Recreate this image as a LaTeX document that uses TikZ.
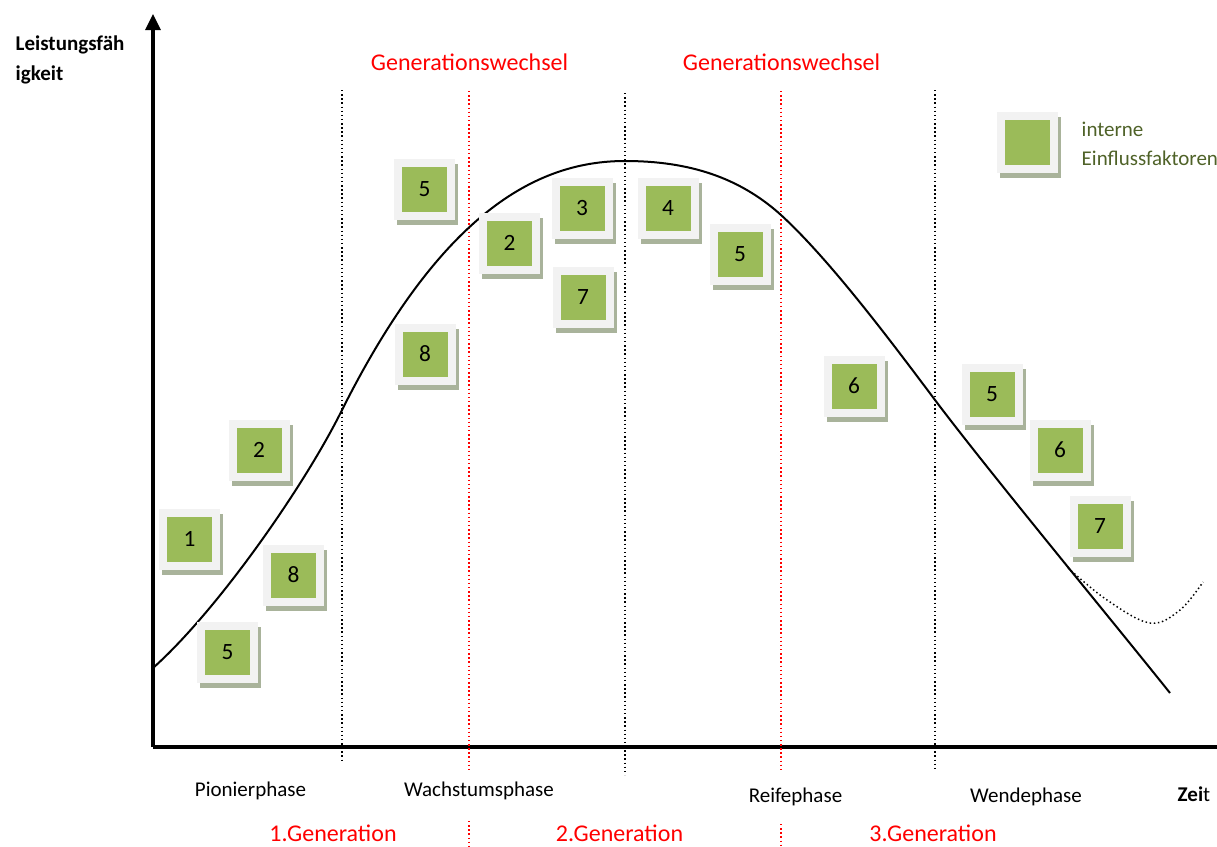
\documentclass[tikz,border=0pt]{standalone}
\usepackage{fontspec}
\setmainfont{Carlito}
\usetikzlibrary{arrows.meta,shadows}
\definecolor{boxgrey}{HTML}{F2F2F2}
\definecolor{boxgreen}{HTML}{9BBB59}
\definecolor{boxshadow}{HTML}{A9B39B}
\definecolor{olivetext}{HTML}{4F6228}
\definecolor{genred}{HTML}{FF0000}
\tikzset{
  factor/.style={minimum size=45.75pt, inner sep=0pt, fill=boxgrey,
    general shadow={fill=boxshadow, shadow xshift=2.25pt, shadow yshift=-4pt},
    path picture={\fill[boxgreen] ([shift={(6pt,6pt)}]path picture bounding box.south west) rectangle ([shift={(-6pt,-6pt)}]path picture bounding box.north east);},
    font=\fontsize{17.5pt}{20pt}\selectfont},
  axisline/.style={line width=2.3pt, black},
  curveline/.style={line width=1.5pt, black},
  blackdots/.style={black, dotted, line width=1.1pt},
  reddots/.style={genred, dotted, line width=1.1pt},
  phase/.style={anchor=base, font=\fontsize{15.75pt}{18pt}\selectfont},
  redlabel/.style={anchor=base, text=genred, font=\fontsize{18pt}{21pt}\selectfont},
  legendtext/.style={anchor=base west, text=olivetext, font=\fontsize{15.75pt}{18pt}\selectfont}
}
\begin{document}
\begin{tikzpicture}[x=0.75pt,y=-0.75pt]
\useasboundingbox (0,0) rectangle (1217,846);
% axes
\coordinate (O) at (153,747);
\coordinate (ytop) at (153,14);
\coordinate (xend) at (1217,747);
\draw[axisline, -{Triangle[width=11.25pt,length=12pt]}] (O) -- (ytop);
\draw[axisline] (O) -- (xend);
% vertical separators
\coordinate (b1t) at (342,90);  \coordinate (b1b) at (342,763);
\coordinate (b2t) at (625,93);  \coordinate (b2b) at (625,775);
\coordinate (b3t) at (935,90);  \coordinate (b3b) at (935,771);
\coordinate (r1t) at (469,91);  \coordinate (r1b) at (469,770);
\coordinate (r1s) at (469,821); \coordinate (r1e) at (469,846);
\coordinate (r2t) at (781,91);  \coordinate (r2b) at (781,770);
\coordinate (r2s) at (781,824); \coordinate (r2e) at (781,846);
\draw[blackdots] (b1t) -- (b1b);
\draw[blackdots] (b2t) -- (b2b);
\draw[blackdots] (b3t) -- (b3b);
\draw[reddots] (r1t) -- (r1b);
\draw[reddots] (r1s) -- (r1e);
\draw[reddots] (r2t) -- (r2b);
\draw[reddots] (r2s) -- (r2e);
% curve
\coordinate (c0) at (153,668);
\coordinate (c1) at (342,410);
\coordinate (c2) at (625,161);
\coordinate (c3) at (781,215);
\coordinate (c4) at (935,400);
\coordinate (c5) at (1170,693);
\coordinate (d0) at (1068,568);
\draw[curveline] (c0) .. controls (218,610) and (305,485) .. (c1)
  .. controls (440,215) and (535,161) .. (c2)
  .. controls (690,161) and (740,178) .. (c3)
  .. controls (830,260) and (890,340) .. (c4)
  .. controls (990,473) and (1110,618) .. (c5);
\draw[black, dotted, line width=1.1pt] plot[smooth, tension=0.6] coordinates {(d0) (1107,600) (1150,623) (1180,610) (1203,582)};
% factor boxes
\node[factor] (f5a) at (424.5,189.5) {5};
\node[factor] (f2a) at (509.5,243) {2};
\node[factor] (f3a) at (582,208.5) {3};
\node[factor] (f7a) at (583,297) {7};
\node[factor] (f4a) at (668,208) {4};
\node[factor] (f5b) at (740,254) {5};
\node[factor] (f8a) at (425,354) {8};
\node[factor] (f6a) at (854,386) {6};
\node[factor] (f5c) at (992,394) {5};
\node[factor] (f6b) at (1060,450) {6};
\node[factor] (f7b) at (1100,526.5) {7};
\node[factor] (f2b) at (259,450) {2};
\node[factor] (f1a) at (189.5,539) {1};
\node[factor] (f8b) at (293.5,575) {8};
\node[factor] (f5d) at (227.5,652) {5};
% legend
\node[factor] (leg) at (1027,142) {};
\node[legendtext] (legA) at (1077,136) {interne};
\node[legendtext] (legB) at (1077,165) {Einflussfaktoren};
% axis labels
\node[anchor=base west, font=\fontsize{15.75pt}{18pt}\selectfont\bfseries] (ylab1) at (11,50) {Leistungsfäh};
\node[anchor=base west, font=\fontsize{15.75pt}{18pt}\selectfont\bfseries] (ylab2) at (11,80) {igkeit};
\node[anchor=base west, font=\fontsize{15.75pt}{18pt}\selectfont] (xlab) at (1173,801) {\textbf{Zei}t};
% top labels
\node[redlabel] (gw1) at (469.5,70) {Generationswechsel};
\node[redlabel] (gw2) at (781.5,70) {Generationswechsel};
% phases
\node[phase] (p1) at (250.5,796) {Pionierphase};
\node[phase] (p2) at (479,796) {Wachstumsphase};
\node[phase] (p3) at (795.5,802) {Reifephase};
\node[phase] (p4) at (1026,802) {Wendephase};
% generations
\node[redlabel] (g1) at (333,841) {1.Generation};
\node[redlabel] (g2) at (619.5,841) {2.Generation};
\node[redlabel] (g3) at (933,841) {3.Generation};
\end{tikzpicture}
\end{document}
